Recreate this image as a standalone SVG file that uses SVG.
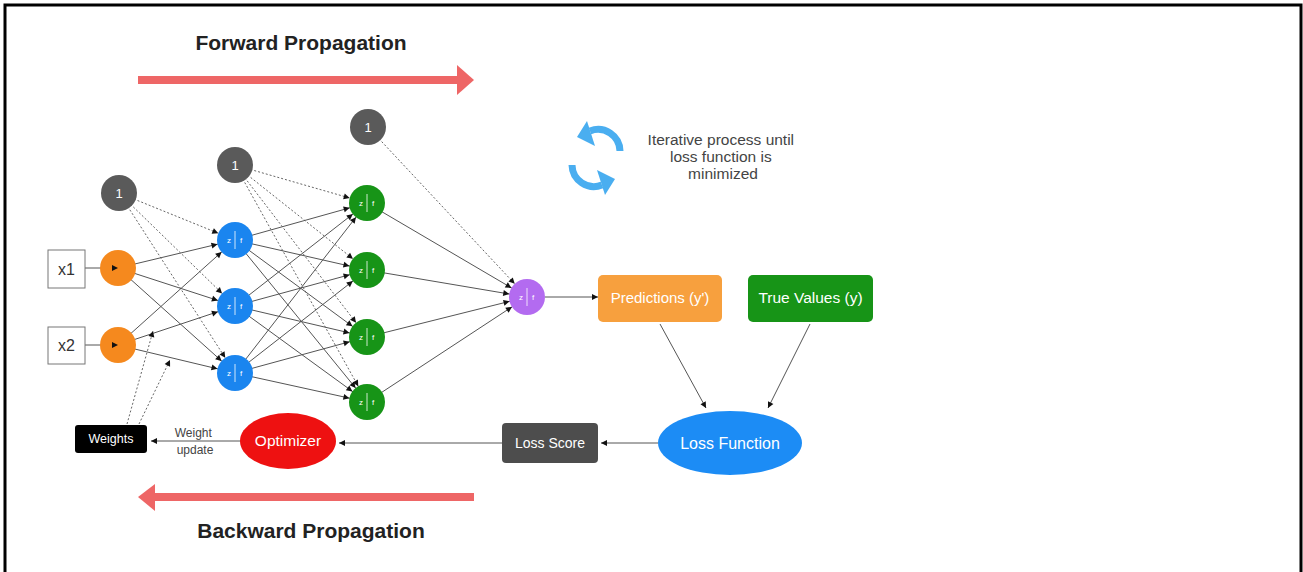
<svg xmlns="http://www.w3.org/2000/svg" width="1303" height="572" viewBox="0 0 1303 572">
  <style>
    .t { font-family: "Liberation Sans", Arial, sans-serif; }
    .title { font-family: "Liberation Sans", Arial, sans-serif; font-weight: bold; font-size: 21px; fill: #222; text-anchor: middle; }
    .edge { stroke: #555; stroke-width: 1; fill: none; }
    .bias-edge { stroke: #666; stroke-width: 1; fill: none; stroke-dasharray: 2 2; }
    .neuron-lbl { font-family: "Liberation Sans", Arial, sans-serif; font-size: 8px; fill: #fff; text-anchor: middle; }
    .divider { stroke: #fff; stroke-width: 0.8; }
    .bias { fill: #5a5a5a; }
    .bias-lbl { font-family: "Liberation Sans", Arial, sans-serif; font-size: 13px; fill: #fff; text-anchor: middle; }
    .box-lbl { font-family: "Liberation Sans", Arial, sans-serif; fill: #fff; text-anchor: middle; }
    .prop { stroke: #ee6666; stroke-width: 8; fill: none; }
  </style>
  <defs>
    <!-- arrowhead whose tip sits on the rim of an 18px-radius neuron -->
    <marker id="ah-node" markerUnits="userSpaceOnUse" orient="auto" refX="18" refY="0" overflow="visible">
      <path d="M0,0 L-6,-3 L-6,3 Z" fill="#111"/>
    </marker>
    <!-- arrowhead with tip on the line end -->
    <marker id="ah" markerUnits="userSpaceOnUse" orient="auto" refX="0" refY="0" overflow="visible">
      <path d="M0,0 L-6,-3 L-6,3 Z" fill="#111"/>
    </marker>
    <!-- one half of the refresh / iteration icon -->
    <g id="cycle-half">
      <path d="M620,151 A22,22 0 0 0 590,131" stroke="#4aaef0" stroke-width="7" fill="none"/>
      <polygon points="577,137 587,121 595,146" fill="#4aaef0"/>
    </g>
  </defs>

  <rect width="1303" height="572" fill="#fff"/>
  <!-- outer frame (open at the bottom) -->
  <path d="M5,572 V5 H1301 V572" stroke="#000" stroke-width="3" fill="none"/>

  <!-- propagation direction banners -->
  <g id="forward">
    <text class="title" x="301" y="50">Forward Propagation</text>
    <line class="prop" x1="138" y1="80" x2="460" y2="80"/>
    <polygon points="474,80 457,65 457,95" fill="#ee6666"/>
  </g>
  <g id="backward">
    <line class="prop" x1="474" y1="497" x2="152" y2="497"/>
    <polygon points="138,497 155,484 155,511" fill="#ee6666"/>
    <text class="title" x="311" y="538">Backward Propagation</text>
  </g>

  <!-- iteration note -->
  <g id="iteration">
    <use href="#cycle-half"/>
    <use href="#cycle-half" transform="rotate(180 596 158)"/>
    <text class="t" font-size="15.5" fill="#444" text-anchor="middle">
      <tspan x="723" y="145">Iterative process until</tspan>
      <tspan x="723" y="162">loss function is</tspan>
      <tspan x="723" y="179">minimized</tspan>
    </text>
  </g>

  <g id="connectors">
    <!-- inputs -->
    <line class="edge" x1="85" y1="268" x2="118" y2="268" marker-end="url(#ah)"/>
    <line class="edge" x1="85" y1="345" x2="118" y2="345" marker-end="url(#ah)"/>
    <!-- bias 1 to hidden layer 1 -->
    <line class="bias-edge" x1="119" y1="193" x2="235" y2="240" marker-end="url(#ah-node)"/>
    <line class="bias-edge" x1="119" y1="193" x2="235" y2="306" marker-end="url(#ah-node)"/>
    <line class="bias-edge" x1="119" y1="193" x2="235" y2="373" marker-end="url(#ah-node)"/>
    <!-- input layer to hidden layer 1 -->
    <line class="edge" x1="118" y1="268" x2="235" y2="240" marker-end="url(#ah-node)"/>
    <line class="edge" x1="118" y1="268" x2="235" y2="306" marker-end="url(#ah-node)"/>
    <line class="edge" x1="118" y1="268" x2="235" y2="373" marker-end="url(#ah-node)"/>
    <line class="edge" x1="118" y1="345" x2="235" y2="240" marker-end="url(#ah-node)"/>
    <line class="edge" x1="118" y1="345" x2="235" y2="306" marker-end="url(#ah-node)"/>
    <line class="edge" x1="118" y1="345" x2="235" y2="373" marker-end="url(#ah-node)"/>
    <!-- bias 2 to hidden layer 2 -->
    <line class="bias-edge" x1="235" y1="165" x2="367" y2="203" marker-end="url(#ah-node)"/>
    <line class="bias-edge" x1="235" y1="165" x2="367" y2="270" marker-end="url(#ah-node)"/>
    <line class="bias-edge" x1="235" y1="165" x2="367" y2="337" marker-end="url(#ah-node)"/>
    <line class="bias-edge" x1="235" y1="165" x2="367" y2="402" marker-end="url(#ah-node)"/>
    <!-- hidden layer 1 to hidden layer 2 -->
    <line class="edge" x1="235" y1="240" x2="367" y2="203" marker-end="url(#ah-node)"/>
    <line class="edge" x1="235" y1="240" x2="367" y2="270" marker-end="url(#ah-node)"/>
    <line class="edge" x1="235" y1="240" x2="367" y2="337" marker-end="url(#ah-node)"/>
    <line class="edge" x1="235" y1="240" x2="367" y2="402" marker-end="url(#ah-node)"/>
    <line class="edge" x1="235" y1="306" x2="367" y2="203" marker-end="url(#ah-node)"/>
    <line class="edge" x1="235" y1="306" x2="367" y2="270" marker-end="url(#ah-node)"/>
    <line class="edge" x1="235" y1="306" x2="367" y2="337" marker-end="url(#ah-node)"/>
    <line class="edge" x1="235" y1="306" x2="367" y2="402" marker-end="url(#ah-node)"/>
    <line class="edge" x1="235" y1="373" x2="367" y2="203" marker-end="url(#ah-node)"/>
    <line class="edge" x1="235" y1="373" x2="367" y2="270" marker-end="url(#ah-node)"/>
    <line class="edge" x1="235" y1="373" x2="367" y2="337" marker-end="url(#ah-node)"/>
    <line class="edge" x1="235" y1="373" x2="367" y2="402" marker-end="url(#ah-node)"/>
    <!-- bias 3 and hidden layer 2 to output -->
    <line class="bias-edge" x1="368" y1="127" x2="527" y2="297" marker-end="url(#ah-node)"/>
    <line class="edge" x1="367" y1="203" x2="527" y2="297" marker-end="url(#ah-node)"/>
    <line class="edge" x1="367" y1="270" x2="527" y2="297" marker-end="url(#ah-node)"/>
    <line class="edge" x1="367" y1="337" x2="527" y2="297" marker-end="url(#ah-node)"/>
    <line class="edge" x1="367" y1="402" x2="527" y2="297" marker-end="url(#ah-node)"/>
    <!-- output to predictions -->
    <line class="edge" x1="545" y1="297" x2="598" y2="297" marker-end="url(#ah)"/>
    <!-- loss computation -->
    <line class="edge" x1="660" y1="324" x2="706" y2="408" marker-end="url(#ah)"/>
    <line class="edge" x1="810" y1="324" x2="768" y2="408" marker-end="url(#ah)"/>
    <line class="edge" x1="658" y1="443" x2="601" y2="443" marker-end="url(#ah)"/>
    <line class="edge" x1="502" y1="443" x2="339" y2="443" marker-end="url(#ah)"/>
    <line class="edge" x1="240" y1="441" x2="151" y2="441" marker-end="url(#ah)"/>
    <!-- weights feeding back into the edges -->
    <line class="bias-edge" x1="127" y1="424" x2="153" y2="331" marker-end="url(#ah)"/>
    <line class="bias-edge" x1="139" y1="424" x2="170" y2="360" marker-end="url(#ah)"/>
    <text class="t" font-size="12" fill="#444" text-anchor="middle">
      <tspan x="195" y="437">Weight</tspan>
      <tspan x="195" y="454">update</tspan>
    </text>
  </g>

  <!-- inputs -->
  <g id="x1">
    <rect x="48" y="250" width="37" height="38" fill="#fff" stroke="#777" stroke-width="1"/>
    <text class="t" x="66.5" y="275" font-size="16" fill="#333" text-anchor="middle">x1</text>
  </g>
  <g id="x2">
    <rect x="48" y="327" width="37" height="37" fill="#fff" stroke="#777" stroke-width="1"/>
    <text class="t" x="66.5" y="351" font-size="16" fill="#333" text-anchor="middle">x2</text>
  </g>

  <!-- input neurons -->
  <g id="in1"><circle cx="118" cy="268" r="18" fill="#f5891e"/></g>
  <g id="in2"><circle cx="118" cy="345" r="18" fill="#f5891e"/></g>
  <!-- re-draw input arrowheads on top of the neurons -->
  <g id="input-tips">
    <path d="M118,268 l-6,-3 v6 Z" fill="#111"/>
    <path d="M118,345 l-6,-3 v6 Z" fill="#111"/>
  </g>

  <!-- bias units -->
  <g id="bias1"><circle class="bias" cx="119" cy="193" r="18"/><text class="bias-lbl" x="119" y="198">1</text></g>
  <g id="bias2"><circle class="bias" cx="235" cy="165" r="18"/><text class="bias-lbl" x="235" y="170">1</text></g>
  <g id="bias3"><circle class="bias" cx="368" cy="127" r="18"/><text class="bias-lbl" x="368" y="132">1</text></g>

  <!-- hidden layer 1 -->
  <g id="h1a"><circle cx="235" cy="240" r="18" fill="#1a85ef"/><line class="divider" x1="235" y1="231" x2="235" y2="249"/><text class="neuron-lbl" x="229" y="243">z</text><text class="neuron-lbl" x="241" y="243">f</text></g>
  <g id="h1b"><circle cx="235" cy="306" r="18" fill="#1a85ef"/><line class="divider" x1="235" y1="297" x2="235" y2="315"/><text class="neuron-lbl" x="229" y="309">z</text><text class="neuron-lbl" x="241" y="309">f</text></g>
  <g id="h1c"><circle cx="235" cy="373" r="18" fill="#1a85ef"/><line class="divider" x1="235" y1="364" x2="235" y2="382"/><text class="neuron-lbl" x="229" y="376">z</text><text class="neuron-lbl" x="241" y="376">f</text></g>

  <!-- hidden layer 2 -->
  <g id="h2a"><circle cx="367" cy="203" r="18" fill="#179417"/><line class="divider" x1="367" y1="194" x2="367" y2="212"/><text class="neuron-lbl" x="361" y="206">z</text><text class="neuron-lbl" x="373" y="206">f</text></g>
  <g id="h2b"><circle cx="367" cy="270" r="18" fill="#179417"/><line class="divider" x1="367" y1="261" x2="367" y2="279"/><text class="neuron-lbl" x="361" y="273">z</text><text class="neuron-lbl" x="373" y="273">f</text></g>
  <g id="h2c"><circle cx="367" cy="337" r="18" fill="#179417"/><line class="divider" x1="367" y1="328" x2="367" y2="346"/><text class="neuron-lbl" x="361" y="340">z</text><text class="neuron-lbl" x="373" y="340">f</text></g>
  <g id="h2d"><circle cx="367" cy="402" r="18" fill="#179417"/><line class="divider" x1="367" y1="393" x2="367" y2="411"/><text class="neuron-lbl" x="361" y="405">z</text><text class="neuron-lbl" x="373" y="405">f</text></g>

  <!-- output neuron -->
  <g id="out"><circle cx="527" cy="297" r="18" fill="#b36bf0"/><line class="divider" x1="527" y1="288" x2="527" y2="306"/><text class="neuron-lbl" x="521" y="300">z</text><text class="neuron-lbl" x="533" y="300">f</text></g>

  <!-- loss pipeline -->
  <g id="predictions">
    <rect x="598" y="275" width="124" height="47" rx="5" fill="#f7a03e"/>
    <text class="box-lbl" x="660" y="303" font-size="15">Predictions (y')</text>
  </g>
  <g id="true-values">
    <rect x="748" y="275" width="125" height="47" rx="5" fill="#179417"/>
    <text class="box-lbl" x="810.5" y="303" font-size="15.5">True Values (y)</text>
  </g>
  <g id="loss-function">
    <ellipse cx="730" cy="443" rx="72" ry="32" fill="#1c8cf5"/>
    <text class="box-lbl" x="730" y="449" font-size="16">Loss Function</text>
  </g>
  <g id="loss-score">
    <rect x="502" y="423" width="96" height="40" rx="4" fill="#4d4d4d"/>
    <text class="box-lbl" x="550" y="448" font-size="14">Loss Score</text>
  </g>
  <g id="optimizer">
    <ellipse cx="288" cy="441" rx="48" ry="28" fill="#ee1111"/>
    <text class="box-lbl" x="288" y="446" font-size="15.5">Optimizer</text>
  </g>
  <g id="weights">
    <rect x="75" y="425" width="72" height="28" rx="3" fill="#000"/>
    <text class="box-lbl" x="111" y="443" font-size="12.5">Weights</text>
  </g>
</svg>
